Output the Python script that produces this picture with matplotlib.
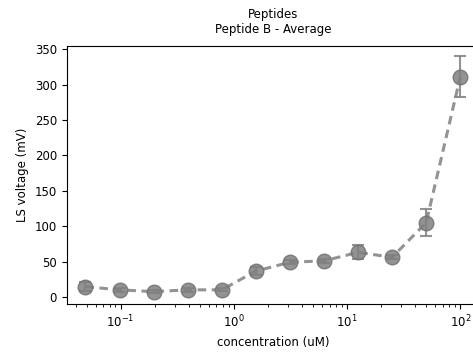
import matplotlib
matplotlib.use("Agg")
import matplotlib.pyplot as plt

# concentrations (uM), two-fold dilution series
conc = [0.048828125, 0.09765625, 0.1953125, 0.390625, 0.78125, 1.5625,
        3.125, 6.25, 12.5, 25, 50, 100]
# average LS voltage (mV) and error
voltage = [14.5, 10, 7.5, 10, 10, 36.5, 49, 51, 63, 56, 105, 311]
err = [6, 3, 2, 3, 2, 6, 3, 3, 10, 3, 19.5, 29]

plt.rcParams['font.family'] = ['DejaVu Sans']
plt.rcParams['font.size'] = 8.5

fig = plt.figure(figsize=(4.73, 3.55), dpi=100)
ax = fig.add_axes([0.141, 0.1437, 0.8717, 0.7273])

ax.errorbar(conc, voltage, yerr=err, color='grey', ls='--', lw=2.2,
            marker='o', markersize=10.5, markerfacecolor='grey',
            markeredgecolor='#707070', alpha=0.85, elinewidth=1.5,
            capsize=4.5, capthick=1.5, dashes=(2.8, 1.8))

ax.set_xscale('log')
ax.set_ylim(-10, 355)
ax.set_yticks([0, 50, 100, 150, 200, 250, 300, 350])
ax.set_title("Peptides\nPeptide B - Average", fontsize=8.5, pad=9)
ax.set_xlabel("concentration (uM)")
ax.set_ylabel("LS voltage (mV)")

fig.savefig("out.png", dpi=100)
